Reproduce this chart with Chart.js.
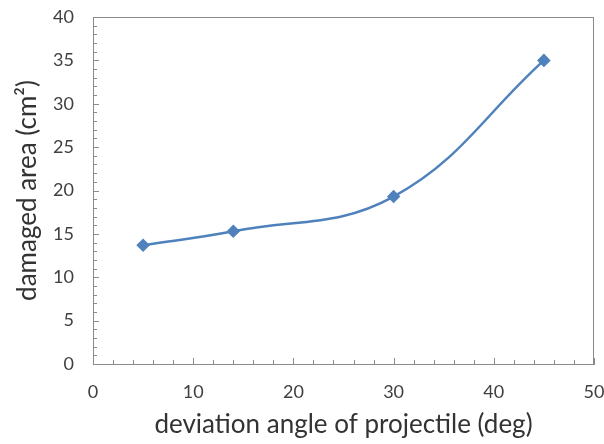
<!DOCTYPE html>
<html><head><meta charset="utf-8">
<script src="https://cdn.jsdelivr.net/npm/chart.js@4"></script>
<style>html,body{margin:0;padding:0;background:#fff}#w{width:604px;height:444px}</style>
</head><body><div id="w"><canvas id="c"></canvas></div>
<script>
const angles = [5, 14, 30, 45];
const areas = [13.7, 15.3, 19.3, 35.0];
const xTicks = [0, 10, 20, 30, 40, 50];
const yTicks = [0, 5, 10, 15, 20, 25, 30, 35, 40];

const tickPlugin = {
  id: 'inTicks',
  afterDraw(chart) {
    const ctx = chart.ctx, a = chart.chartArea;
    const xs = chart.scales.x, ys = chart.scales.y;
    ctx.save();
    ctx.strokeStyle = '#8a8a8a';
    ctx.lineWidth = 1;
    ctx.strokeRect(a.left + 0.5, a.top + 0.5, a.right - a.left - 1, a.bottom - a.top);
    ctx.beginPath();
    for (let v = xs.min; v <= xs.max; v += 2) {
      const px = Math.round(xs.getPixelForValue(v)) + 0.5;
      const len = (v % 10 === 0) ? 6 : 4;
      ctx.moveTo(px, a.bottom); ctx.lineTo(px, a.bottom - len);
    }
    for (let v = ys.min; v <= ys.max; v += 1) {
      const py = Math.round(ys.getPixelForValue(v)) + 0.5;
      const len = (v % 5 === 0) ? 6 : 4;
      ctx.moveTo(a.left, py); ctx.lineTo(a.left + len, py);
    }
    ctx.stroke();
    ctx.restore();
  }
};

new Chart(document.getElementById('c'), {
  type: 'scatter',
  data: {
    datasets: [{
      data: angles.map((x, i) => ({x, y: areas[i]})),
      showLine: true,
      tension: 0.4,
      borderColor: '#4f81bd',
      backgroundColor: '#4f81bd',
      borderWidth: 2.5,
      pointStyle: 'rectRot',
      pointRadius: 5,
      pointHoverRadius: 5
    }]
  },
  options: {
    responsive: true,
    maintainAspectRatio: false,
    animation: false,
    layout: { padding: { left: 12, right: 10, top: 17, bottom: 0 } },
    plugins: { legend: { display: false }, tooltip: { enabled: false } },
    scales: {
      x: {
        type: 'linear', min: 0, max: 50,
        afterBuildTicks: s => { s.ticks = xTicks.map(v => ({value: v})); },
        afterFit: s => { s.height = 80; s.paddingLeft = 0; s.paddingRight = 0; },
        grid: { display: false, drawTicks: false },
        border: { color: '#8a8a8a' },
        ticks: { color: '#404040', font: { family: 'Lato', size: 18 }, padding: 17 },
        title: { display: true, text: 'deviation angle of projectile (deg)', color: '#333', font: { family: 'Lato', size: 26 }, padding: { top: 13 } }
      },
      y: {
        type: 'linear', min: 0, max: 40,
        afterBuildTicks: s => { s.ticks = yTicks.map(v => ({value: v})); },
        afterFit: s => { s.width = 81; s.paddingTop = 0; s.paddingBottom = 0; },
        grid: { display: false, drawTicks: false },
        border: { color: '#8a8a8a' },
        ticks: { color: '#404040', font: { family: 'Lato', size: 18 }, padding: 19 },
        title: { display: true, text: 'damaged area (cm²)', color: '#333', font: { family: 'Lato', size: 26 }, padding: 0 }
      }
    }
  },
  plugins: [tickPlugin]
});
</script>
</body></html>
